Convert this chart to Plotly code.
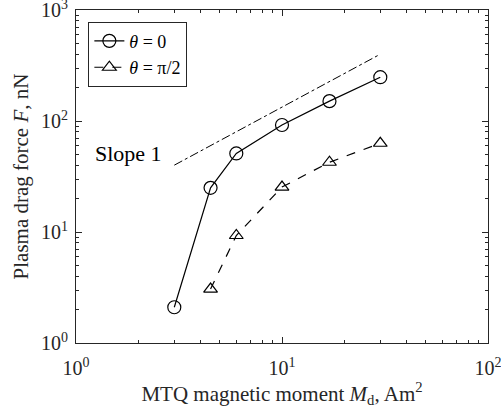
import plotly.graph_objects as go

# Magnetic moment of the MTQ (Am^2)
moment_theta0 = [3, 4.5, 6, 10, 17, 30]
force_theta0 = [2.1, 25, 51, 92, 151, 248]

moment_theta90 = [4.5, 6, 10, 17, 30]
force_theta90 = [3.06, 9.3, 25.4, 42.5, 63]

# Reference line of slope 1
slope_x = [3, 30]
slope_y = [40, 400]

x_tickvals = [1, 10, 100]
x_ticktext = ["10<sup>0</sup>", "10<sup>1</sup>", "10<sup>2</sup>"]
y_tickvals = [1, 10, 100, 1000]
y_ticktext = ["10<sup>0</sup>", "10<sup>1</sup>", "10<sup>2</sup>", "10<sup>3</sup>"]

# Minor ticks at 2..9 within each decade
x_minor = [m * d for d in (1, 10) for m in range(2, 10)]
y_minor = [m * d for d in (1, 10, 100) for m in range(2, 10)]

FONT = "Liberation Serif, Times New Roman, serif"
INK = "#262626"

fig = go.Figure()
fig.add_trace(go.Scatter(
    x=moment_theta0, y=force_theta0, mode="lines+markers",
    name="<i>θ</i> = 0",
    line=dict(color="black", width=1.2),
    marker=dict(symbol="circle-open", size=13, color="black", line=dict(width=1.2)),
))
fig.add_trace(go.Scatter(
    x=moment_theta90, y=force_theta90, mode="lines+markers",
    name="<i>θ</i> = π/2",
    line=dict(color="black", width=1.2, dash="dash"),
    marker=dict(symbol="triangle-up-open", size=12, color="black", line=dict(width=1.2)),
))
fig.add_trace(go.Scatter(
    x=slope_x, y=slope_y, mode="lines", showlegend=False,
    line=dict(color="black", width=1, dash="dashdot"),
))

fig.add_annotation(
    x=0.255, y=1.71, xref="x", yref="y", text="Slope 1", showarrow=False,
    font=dict(family=FONT, size=22, color="black"),
)

axis_common = dict(
    type="log", showgrid=False, zeroline=False, showline=True, mirror="ticks",
    linecolor=INK, linewidth=1, ticks="inside", ticklen=6, tickcolor=INK,
    tickfont=dict(family=FONT, size=20, color=INK), automargin=False,
    ticklabeloverflow="allow",
)

fig.update_layout(
    width=501, height=415,
    margin=dict(l=76, r=13, t=10, b=72),
    paper_bgcolor="white", plot_bgcolor="white",
    font=dict(family=FONT, color=INK),
    xaxis=dict(
        **axis_common, range=[0, 2], tickvals=x_tickvals, ticktext=x_ticktext,
        ticklabelstandoff=7,
        minor=dict(ticks="inside", ticklen=3, tickcolor=INK, showgrid=False,
                   tickmode="array", tickvals=x_minor),
        title=dict(text="MTQ magnetic moment <i>M</i><sub>d</sub>, Am<sup>2</sup>",
                   font=dict(family=FONT, size=21, color=INK), standoff=4),
    ),
    yaxis=dict(
        **axis_common, range=[0, 3], tickvals=y_tickvals, ticktext=y_ticktext,
        ticklabelstandoff=3,
        minor=dict(ticks="inside", ticklen=3, tickcolor=INK, showgrid=False,
                   tickmode="array", tickvals=y_minor),
        title=dict(text="Plasma drag force <i>F</i>, nN",
                   font=dict(family=FONT, size=21, color=INK), standoff=6),
    ),
    legend=dict(
        x=0.03, y=0.965, xanchor="left", yanchor="top",
        bordercolor=INK, borderwidth=1, bgcolor="white",
        font=dict(family=FONT, size=18, color="black"),
        tracegroupgap=0, itemwidth=30,
    ),
)

fig.write_html("out.html")
